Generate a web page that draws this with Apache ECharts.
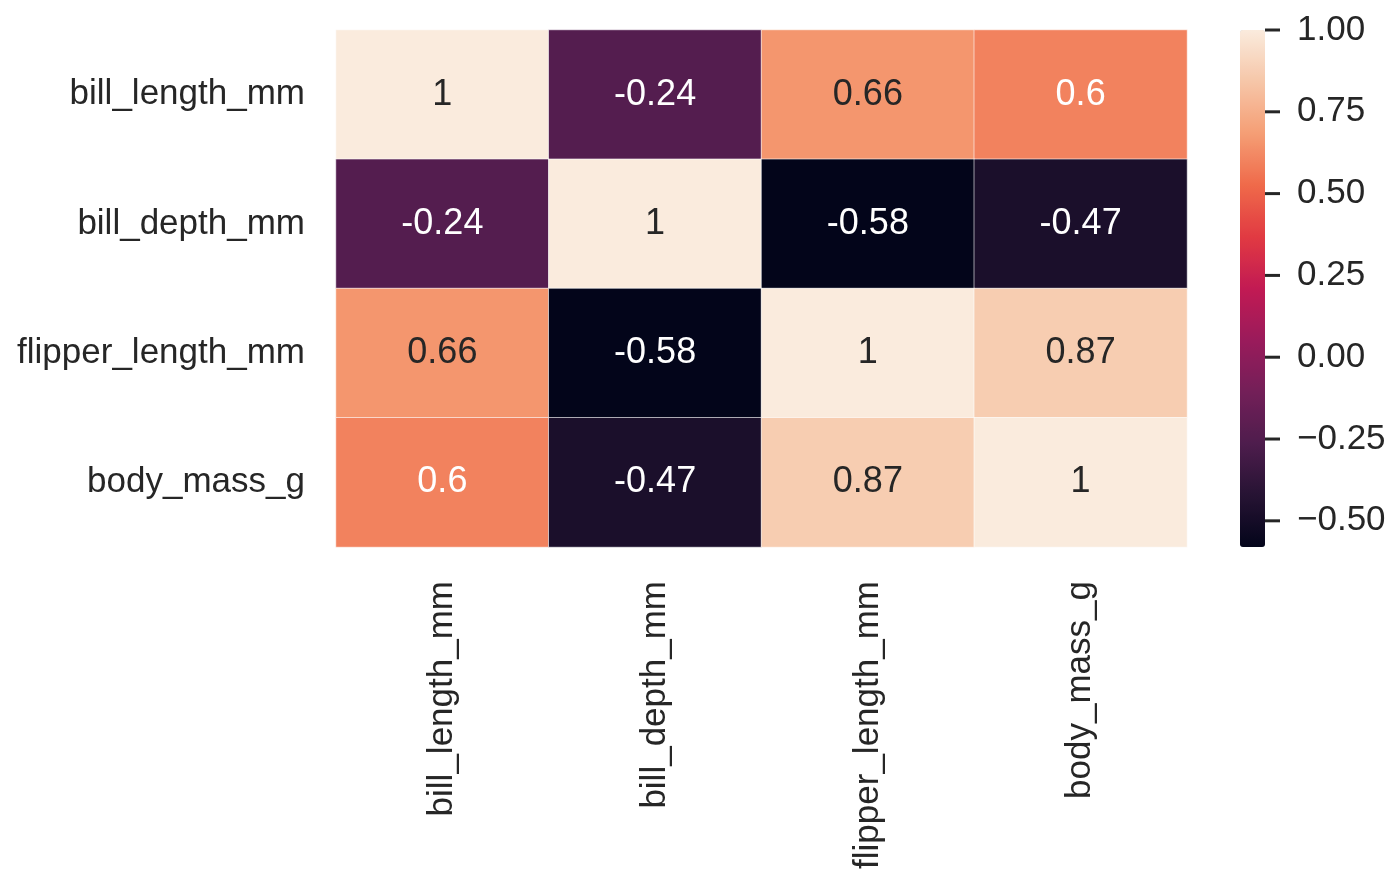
<!DOCTYPE html>
<html>
<head>
<meta charset="utf-8">
<script src="https://cdn.jsdelivr.net/npm/echarts@6/dist/echarts.min.js"></script>
<style>
html,body{margin:0;padding:0;background:#fff;}
#chart{width:1400px;height:882px;}
</style>
</head>
<body>
<div id="chart"></div>
<script>
// ---- data ----
var categories = ["bill_length_mm", "bill_depth_mm", "flipper_length_mm", "body_mass_g"];
var row_bill_length = [1, -0.24, 0.66, 0.6];
var row_bill_depth = [-0.24, 1, -0.58, -0.47];
var row_flipper_length = [0.66, -0.58, 1, 0.87];
var row_body_mass = [0.6, -0.47, 0.87, 1];
var colorbarTicks = [-0.5, -0.25, 0, 0.25, 0.5, 0.75, 1.0];
var vMin = -0.58, vMax = 1.0;

// rocket-like colormap stops (evenly spaced)
var rocket = ["#03051a", "#261333", "#4e1d4d", "#731f58", "#9a1b5b", "#c21a53",
              "#e13a42", "#ef6a4a", "#f59e75", "#f6c6a8", "#faebdd"];

var rows = [row_bill_length, row_bill_depth, row_flipper_length, row_body_mass];

function hexToRgb(h){ return [parseInt(h.substr(1,2),16), parseInt(h.substr(3,2),16), parseInt(h.substr(5,2),16)]; }
function mapColor(v){
  var t = (v - vMin) / (vMax - vMin);
  t = Math.max(0, Math.min(1, t));
  var n = rocket.length - 1;
  var i = Math.min(n - 1, Math.floor(t * n));
  var f = t * n - i;
  var a = hexToRgb(rocket[i]), b = hexToRgb(rocket[i+1]);
  return [a[0]+(b[0]-a[0])*f, a[1]+(b[1]-a[1])*f, a[2]+(b[2]-a[2])*f];
}
function lum(rgb){
  var c = rgb.map(function(x){ x/=255; return x <= 0.03928 ? x/12.92 : Math.pow((x+0.055)/1.055, 2.4); });
  return 0.2126*c[0] + 0.7152*c[1] + 0.0722*c[2];
}

var heatData = [];
rows.forEach(function(r, yi){
  r.forEach(function(v, xi){
    var textColor = lum(mapColor(v)) > 0.408 ? "#262626" : "#ffffff";
    heatData.push({ value: [xi, yi, v], label: { color: textColor } });
  });
});

var FONT = "Liberation Sans, Arial, Helvetica, sans-serif";
var chart = echarts.init(document.getElementById("chart"), null, { renderer: "canvas" });
chart.setOption({
  animation: false,
  backgroundColor: "#ffffff",
  textStyle: { fontFamily: FONT },
  grid: [
    { left: 336, top: 30, width: 851, height: 517, containLabel: false },
    { left: 1240, top: 30, width: 25, height: 517, containLabel: false }
  ],
  xAxis: [
    {
      type: "category", gridIndex: 0, data: categories, position: "bottom",
      axisLine: { show: false }, axisTick: { show: false }, splitLine: { show: false },
      axisLabel: { rotate: 90, margin: 34, fontSize: 35, color: "#262626", fontFamily: FONT }
    },
    { type: "value", gridIndex: 1, show: false, min: 0, max: 1 }
  ],
  yAxis: [
    {
      type: "category", gridIndex: 0, data: categories, inverse: true,
      axisLine: { show: false }, axisTick: { show: false }, splitLine: { show: false },
      axisLabel: { margin: 31, fontSize: 35, color: "#262626", fontFamily: FONT }
    },
    {
      type: "value", gridIndex: 1, min: vMin, max: vMax, position: "right",
      axisLine: { show: false }, splitLine: { show: false }, axisTick: { show: false },
      axisLabel: { show: true, margin: 32, fontSize: 35, color: "#262626", fontFamily: FONT,
                   padding: [6, 0, 0, 0],
                   customValues: colorbarTicks,
                   formatter: function(v){ var s = Math.abs(v).toFixed(2); return (v < 0 ? "\u2212" : "") + s; } }
    }
  ],
  visualMap: {
    type: "continuous", seriesIndex: 0, min: vMin, max: vMax,
    orient: "vertical", left: 1240, top: 30, itemWidth: 25, itemHeight: 517,
    calculable: false, padding: 0, text: null, showLabel: false,
    inRange: { color: rocket }
  },
  series: [
    {
      type: "heatmap", xAxisIndex: 0, yAxisIndex: 0, data: heatData,
      itemStyle: { borderColor: "#ffffff", borderWidth: 0.6 },
      label: {
        show: true, fontSize: 36, fontFamily: FONT,
        formatter: function(p){ return String(p.value[2]); }
      },
      emphasis: { disabled: true }
    },
    {
      type: "custom", xAxisIndex: 1, yAxisIndex: 1, silent: true, clip: false,
      encode: { y: 0 },
      data: colorbarTicks.map(function(v){ return [v]; }),
      renderItem: function(params, api){
        var p = api.coord([1, api.value(0)]);
        return {
          type: "line",
          shape: { x1: p[0], y1: p[1], x2: p[0] + 15, y2: p[1] },
          style: { stroke: "#262626", lineWidth: 3 }
        };
      }
    }
  ]
});
</script>
</body>
</html>
